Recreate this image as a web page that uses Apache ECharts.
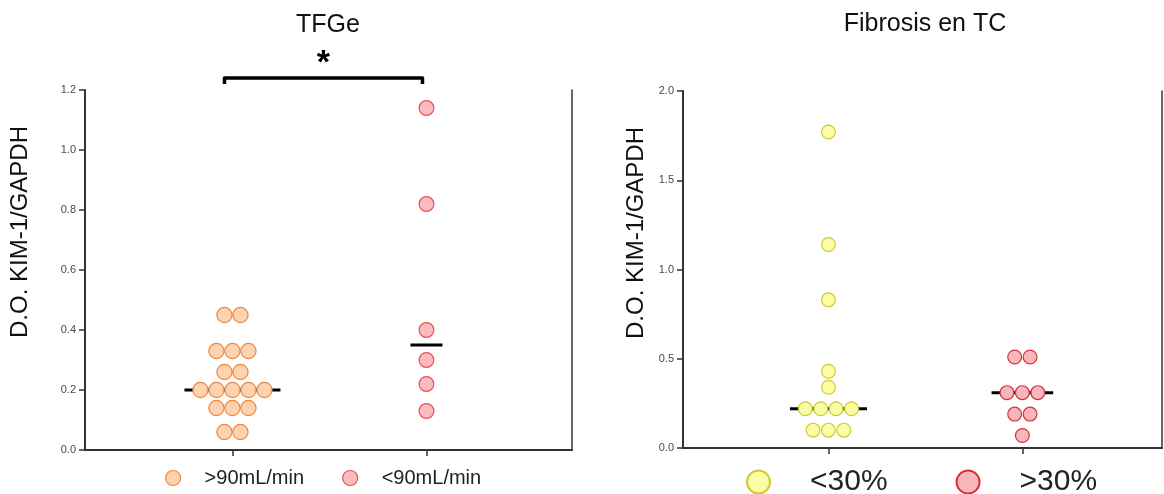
<!DOCTYPE html>
<html>
<head>
<meta charset="utf-8">
<script src="https://cdn.jsdelivr.net/npm/echarts@6/dist/echarts.min.js"></script>
<style>
  html, body { margin: 0; padding: 0; background: #fff; }
  #c { width: 1164px; height: 494px; }
</style>
</head>
<body>
<div id="c"></div>
<script>
// Group labels
const tfgeGroups = ['>90mL/min', '<90mL/min'];
const fibrosisGroups = ['<30%', '>30%'];

// D.O. KIM-1/GAPDH per patient, by group
const tfgeAbove90 = [0.45, 0.45, 0.33, 0.33, 0.33, 0.26, 0.26, 0.20, 0.20, 0.20, 0.20, 0.20, 0.14, 0.14, 0.14, 0.06, 0.06];
const tfgeBelow90 = [1.14, 0.82, 0.40, 0.30, 0.22, 0.13];
const fibrosisBelow30 = [1.77, 1.14, 0.83, 0.43, 0.34, 0.22, 0.22, 0.22, 0.22, 0.10, 0.10, 0.10];
const fibrosisAbove30 = [0.51, 0.51, 0.31, 0.31, 0.31, 0.19, 0.19, 0.07];

// y-axis tick values
const tfgeTicks = [0, 0.2, 0.4, 0.6, 0.8, 1.0, 1.2];
const fibrosisTicks = [0, 0.5, 1.0, 1.5, 2.0];

const FONT = 'Liberation Sans, Arial, sans-serif';
const AXIS = '#333';

// Equal values share a row; each row is spread symmetrically around the category.
function swarm(values, cat) {
  const rows = new Map();
  values.forEach(v => rows.set(v, (rows.get(v) || 0) + 1));
  const out = [];
  rows.forEach((n, v) => { for (let i = 0; i < n; i++) out.push([cat, v, i - (n - 1) / 2]); });
  return out;
}
function widestRow(values) {
  const rows = new Map();
  values.forEach(v => rows.set(v, (rows.get(v) || 0) + 1));
  return Math.max(...rows.values());
}
function median(values) {
  const s = values.slice().sort((a, b) => a - b);
  const m = s.length >> 1;
  return s.length % 2 ? s[m] : (s[m - 1] + s[m]) / 2;
}

function dots(name, values, cat, axis, step, r, fill, stroke) {
  return {
    type: 'custom', name, xAxisIndex: axis, yAxisIndex: axis * 2, z: 3,
    itemStyle: { color: fill, borderColor: stroke },
    data: swarm(values, cat),
    renderItem: (params, api) => {
      const p = api.coord([api.value(0), api.value(1)]);
      return {
        type: 'circle',
        shape: { cx: p[0] + api.value(2) * step, cy: p[1], r },
        style: { fill, stroke, lineWidth: 1.2 }
      };
    }
  };
}
function medianBar(values, cat, axis, step) {
  const half = (widestRow(values) + 1) * step / 2;
  return {
    type: 'custom', xAxisIndex: axis, yAxisIndex: axis * 2, z: 2, silent: true,
    data: [[cat, median(values)]],
    renderItem: (params, api) => {
      const p = api.coord([api.value(0), api.value(1)]);
      return {
        type: 'line',
        shape: { x1: p[0] - half, y1: p[1], x2: p[0] + half, y2: p[1] },
        style: { stroke: '#000', lineWidth: 3 }
      };
    }
  };
}

function yAxes(grid, ticks) {
  const min = ticks[0], max = ticks[ticks.length - 1], interval = ticks[1] - ticks[0];
  return [
    {
      type: 'value', gridIndex: grid, min, max, interval, position: 'left',
      axisLine: { show: true, onZero: false, lineStyle: { color: AXIS, width: 2 } },
      axisTick: { show: true, length: 6, lineStyle: { color: AXIS, width: 1.5 } },
      axisLabel: { formatter: v => v.toFixed(1), fontSize: 11, color: '#4a4a4a', fontFamily: FONT, margin: 9 },
      splitLine: { show: false }
    },
    {
      type: 'value', gridIndex: grid, min, max, interval, position: 'right',
      axisLine: { show: true, onZero: false, lineStyle: { color: AXIS, width: 1.5 } },
      axisTick: { show: false }, axisLabel: { show: false }, splitLine: { show: false }
    }
  ];
}
function xAxis(grid, min, max) {
  return {
    type: 'value', gridIndex: grid, min, max,
    axisLine: { show: true, onZero: false, lineStyle: { color: AXIS, width: 2 } },
    axisTick: { show: true, customValues: [0, 1], length: 6, lineStyle: { color: AXIS, width: 1.5 } },
    axisLabel: { show: false },
    splitLine: { show: false }
  };
}

const colors = {
  peach: ['#fcd3ae', '#ee8640'],
  pink: ['#fbbcc0', '#e9505c'],
  yellow: ['#fcfba6', '#cfcb2c'],
  red: ['#f7b6ba', '#d3323e']
};

const chart = echarts.init(document.getElementById('c'), null, { renderer: 'canvas' });

const option = {
  animation: false,
  backgroundColor: '#fff',
  grid: [
    { left: 85, right: 592, top: 90, bottom: 44 },
    { left: 683, right: 2, top: 91, bottom: 46 }
  ],
  xAxis: [xAxis(0, -0.76, 1.75), xAxis(1, -0.75, 1.72)],
  yAxis: [...yAxes(0, tfgeTicks), ...yAxes(1, fibrosisTicks)],
  legend: [
    {
      left: 160, top: 463, itemWidth: 15, itemHeight: 15, itemGap: 38, selectedMode: false,
      textStyle: { fontSize: 20, color: '#222', fontFamily: FONT, padding: [0, 0, 0, 19] },
      data: [
        { name: tfgeGroups[0], icon: 'circle', itemStyle: { color: colors.peach[0], borderColor: colors.peach[1], borderWidth: 1.2 } },
        { name: tfgeGroups[1], icon: 'circle', itemStyle: { color: colors.pink[0], borderColor: colors.pink[1], borderWidth: 1.2 } }
      ]
    },
    {
      left: 741, top: 462, itemWidth: 23, itemHeight: 23, itemGap: 68, selectedMode: false,
      textStyle: { fontSize: 30, color: '#222', fontFamily: FONT, padding: [0, 0, 0, 35] },
      data: [
        { name: fibrosisGroups[0], icon: 'circle', itemStyle: { color: colors.yellow[0], borderColor: colors.yellow[1], borderWidth: 2 } },
        { name: fibrosisGroups[1], icon: 'circle', itemStyle: { color: colors.red[0], borderColor: colors.red[1], borderWidth: 2 } }
      ]
    }
  ],
  series: [
    medianBar(tfgeAbove90, 0, 0, 16),
    medianBar(tfgeBelow90, 1, 0, 16),
    dots(tfgeGroups[0], tfgeAbove90, 0, 0, 16, 7.6, ...colors.peach),
    dots(tfgeGroups[1], tfgeBelow90, 1, 0, 16, 7.4, ...colors.pink),
    medianBar(fibrosisBelow30, 0, 1, 15.4),
    medianBar(fibrosisAbove30, 1, 1, 15.4),
    dots(fibrosisGroups[0], fibrosisBelow30, 0, 1, 15.4, 6.9, ...colors.yellow),
    dots(fibrosisGroups[1], fibrosisAbove30, 1, 1, 15.4, 6.9, ...colors.red)
  ]
};
chart.setOption(option);

// Titles, axis names and the significance bracket between the two TFGe groups
const x0 = chart.convertToPixel({ xAxisIndex: 0 }, 0);
const x1 = chart.convertToPixel({ xAxisIndex: 0 }, 1);
const bx0 = x0 - 8, bx1 = x1 - 4, by = 78;
const yName = 'D.O. KIM-1/GAPDH';
chart.setOption({
  graphic: [
    { type: 'text', x: 328, y: 25, style: { text: 'TFGe', font: '25px ' + FONT, fill: '#111', align: 'center', verticalAlign: 'middle' } },
    { type: 'text', x: 925, y: 24, style: { text: 'Fibrosis en TC', font: '25px ' + FONT, fill: '#111', align: 'center', verticalAlign: 'middle' } },
    { type: 'text', x: 20, y: 232, rotation: Math.PI / 2, style: { text: yName, font: '24px ' + FONT, fill: '#111', align: 'center', verticalAlign: 'middle' } },
    { type: 'text', x: 636, y: 233, rotation: Math.PI / 2, style: { text: yName, font: '24px ' + FONT, fill: '#111', align: 'center', verticalAlign: 'middle' } },
    { type: 'polyline', shape: { points: [[bx0, by + 6], [bx0, by], [bx1, by], [bx1, by + 6]] }, style: { stroke: '#000', lineWidth: 3.5, fill: null, lineJoin: 'round' } },
    { type: 'text', x: (bx0 + bx1) / 2, y: 64, style: { text: '*', font: 'bold 34px ' + FONT, fill: '#000', align: 'center', verticalAlign: 'middle' } }
  ]
});
</script>
</body>
</html>
